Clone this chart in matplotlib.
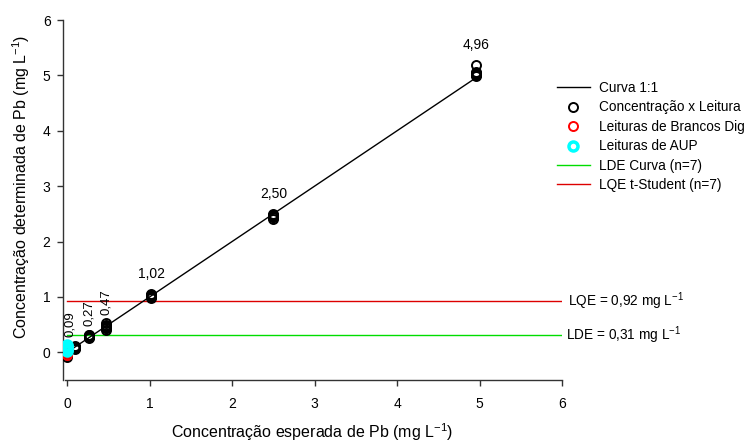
import matplotlib
matplotlib.use("Agg")
import matplotlib.pyplot as plt

plt.rcParams['font.family'] = ['Liberation Sans', 'DejaVu Sans']
plt.rcParams['mathtext.fontset'] = 'custom'
plt.rcParams['mathtext.rm'] = 'Liberation Sans'
plt.rcParams['mathtext.it'] = 'Liberation Sans:italic'

# Expected concentrations (mg/L) and the replicate readings at each level
levels = [0.09, 0.27, 0.47, 1.02, 2.50, 4.96]
level_labels = ["0,09", "0,27", "0,47", "1,02", "2,50", "4,96"]
readings = [
    [0.06, 0.08, 0.09, 0.10, 0.07, 0.12, 0.09],
    [0.26, 0.28, 0.30, 0.31, 0.29, 0.27, 0.32],
    [0.40, 0.43, 0.45, 0.47, 0.50, 0.53, 0.44],
    [0.98, 1.00, 1.02, 1.04, 1.06, 1.01, 1.03],
    [2.41, 2.44, 2.46, 2.48, 2.50, 2.45, 2.47],
    [4.98, 5.00, 5.02, 5.04, 5.06, 5.03, 5.19],
]
zero_readings = [-0.05, -0.08, -0.03]
blank_dig = [-0.02, -0.04, 0.00]
blank_aup = [0.02, 0.05, 0.08, 0.10, 0.12, 0.14, 0.06]

lde = 0.31
lqe = 0.92
lde_text = "LDE = 0,31 mg L$^{-1}$"
lqe_text = "LQE = 0,92 mg L$^{-1}$"

fig = plt.figure(figsize=(7.49, 4.45), dpi=100)
ax = fig.add_axes([63/749, 1 - 380/445, (562 - 63)/749, (380 - 20)/445])

ax.set_xlim(-0.05, 6)
ax.set_ylim(-0.5, 6)

# 1:1 reference line
ax.plot([0, levels[-1]], [0, levels[-1]], color='black', lw=1.0, zorder=2, label='Curva 1:1')

# Replicate readings
xs = [0.0] * len(zero_readings)
ys = list(zero_readings)
for lv, r in zip(levels, readings):
    xs += [lv] * len(r)
    ys += r
ax.plot(xs, ys, 'o', mfc='none', mec='black', ms=6.5, mew=1.4, zorder=3,
        label='Concentração x Leitura')
ax.plot([0.0] * len(blank_dig), blank_dig, 'o', mfc='none', mec='red', ms=6.5, mew=1.4,
        zorder=3, label='Leituras de Brancos Dig')
ax.plot([0.0] * len(blank_aup), blank_aup, 'o', mfc='none', mec='cyan', ms=6.5, mew=2.5,
        zorder=4, label='Leituras de AUP')

# Detection / quantification limits
ax.plot([0, 6], [lde, lde], color='#00dd00', lw=1.0, zorder=1, label='LDE Curva (n=7)')
ax.plot([0, 6], [lqe, lqe], color='#dd0000', lw=1.0, zorder=1, label='LQE t-Student (n=7)')
ax.annotate(lqe_text, xy=(6, lqe), xytext=(4, 0), textcoords='offset points',
            va='center', ha='left', fontsize=9.8, annotation_clip=False)
ax.annotate(lde_text, xy=(6, lde), xytext=(3, 0), textcoords='offset points',
            va='center', ha='left', fontsize=9.8, annotation_clip=False)

# Level labels above each cluster
for lv, r, lab in zip(levels, readings, level_labels):
    top = max(r)
    if lv < 0.9:
        dx = -3 if lv < 0.15 else 0
        ax.annotate(lab, xy=(lv, top), xytext=(dx, 6), textcoords='offset points',
                    rotation=90, ha='center', va='bottom', fontsize=9.5)
    else:
        ax.annotate(lab, xy=(lv, top), xytext=(0, 9), textcoords='offset points',
                    ha='center', va='bottom', fontsize=10)

# Axes styling
for s in ['top', 'right']:
    ax.spines[s].set_visible(False)
ax.spines['bottom'].set_bounds(-0.03, 6)
for s in ['left', 'bottom']:
    ax.spines[s].set_color('#333333')
    ax.spines[s].set_linewidth(1.0)
ax.set_xticks([0, 1, 2, 3, 4, 5, 6])
ax.set_yticks([0, 1, 2, 3, 4, 5, 6])
ax.tick_params(direction='out', length=4, width=1.0, color='#333333', labelsize=10)
ax.tick_params(axis='x', pad=8)
ax.tick_params(axis='y', pad=5)

ax.set_xlabel("Concentração esperada de Pb (mg L$^{-1}$)", fontsize=11.5, labelpad=8)
ax.set_ylabel("Concentração determinada de Pb (mg L$^{-1}$)", fontsize=11.5)
ax.yaxis.set_label_coords(-0.062, 0.536)

leg = ax.legend(loc='upper left', bbox_to_anchor=(557/749, 1 - 81/445),
                bbox_transform=fig.transFigure, frameon=False, fontsize=9.8,
                handlelength=2.4, handletextpad=0.7, labelspacing=0.40, borderpad=0,
                borderaxespad=0)

fig.savefig("out.png", dpi=100)
